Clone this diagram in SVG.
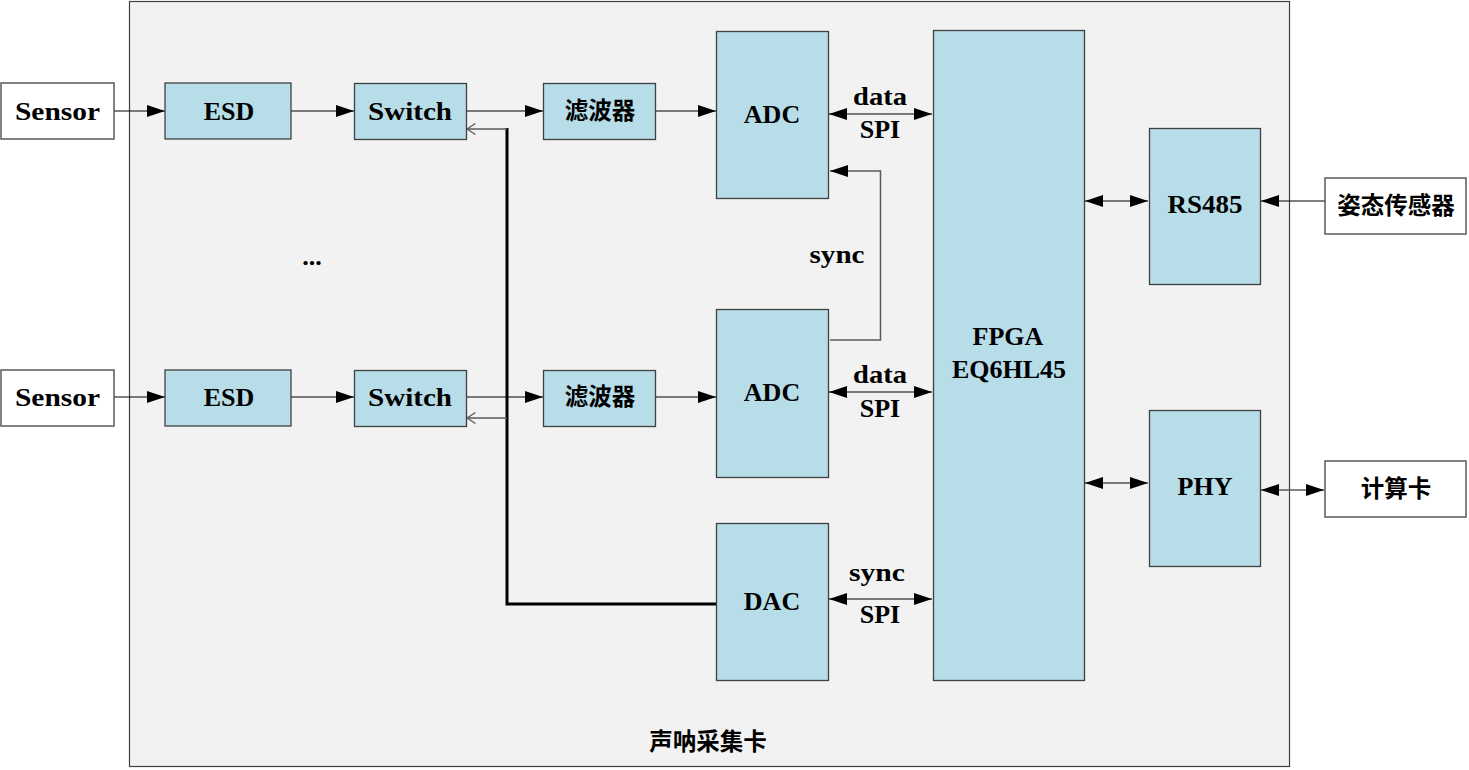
<svg xmlns="http://www.w3.org/2000/svg" width="1469" height="770" viewBox="0 0 1469 770">
<style>
.bg{fill:#f2f2f2;stroke:#404040;stroke-width:1.2}
.ext{fill:#ffffff;stroke:#595959;stroke-width:1.5}
.blk{fill:#b7dde8;stroke:#404040;stroke-width:1.3}
.t{font-family:"Liberation Serif","Noto Sans CJK SC",serif;font-weight:bold;font-size:26px;fill:#000;text-anchor:middle}
.c{font-family:"Noto Sans CJK SC",sans-serif;font-weight:bold;font-size:23.5px;fill:#000;text-anchor:middle}
.ln{fill:none;stroke:#000;stroke-width:1.2}
.gl{fill:none;stroke:#595959;stroke-width:1.5}
.thick{fill:none;stroke:#000;stroke-width:3}
</style>
<defs>
<marker id="ah" viewBox="0 0 18 12" refX="18" refY="6" markerWidth="18" markerHeight="12" markerUnits="userSpaceOnUse" orient="auto-start-reverse">
<path d="M0,0 L18,6 L0,12 z" fill="#000"/>
</marker>
<marker id="oa" viewBox="0 0 10 12" refX="9.5" refY="6" markerWidth="10" markerHeight="12" markerUnits="userSpaceOnUse" orient="auto">
<path d="M1,0.5 L9.5,6 L1,11.5" fill="none" stroke="#595959" stroke-width="1.2"/>
</marker>
</defs>

<g id="board">
<rect class="bg" x="129.5" y="1.5" width="1160" height="765"/>
<text class="c" x="708" y="750">声呐采集卡</text>
</g>

<g id="connectors">
<line class="ln" x1="114" y1="111" x2="165" y2="111" marker-end="url(#ah)"/>
<line class="ln" x1="291" y1="111" x2="354" y2="111" marker-end="url(#ah)"/>
<line class="ln" x1="466" y1="111" x2="543" y2="111" marker-end="url(#ah)"/>
<line class="ln" x1="655" y1="111" x2="716" y2="111" marker-end="url(#ah)"/>
<line class="ln" x1="114" y1="397" x2="165" y2="397" marker-end="url(#ah)"/>
<line class="ln" x1="291" y1="397" x2="354" y2="397" marker-end="url(#ah)"/>
<line class="ln" x1="466" y1="397" x2="543" y2="397" marker-end="url(#ah)"/>
<line class="ln" x1="655" y1="397" x2="716" y2="397" marker-end="url(#ah)"/>
<path class="thick" d="M716,604 H507 V128"/>
<line class="gl" x1="507" y1="129" x2="467" y2="129" marker-end="url(#oa)"/>
<line class="gl" x1="507" y1="418" x2="467" y2="418" marker-end="url(#oa)"/>
<line class="ln" x1="829" y1="114" x2="932" y2="114" marker-start="url(#ah)" marker-end="url(#ah)"/>
<line class="ln" x1="829" y1="392" x2="932" y2="392" marker-start="url(#ah)" marker-end="url(#ah)"/>
<line class="ln" x1="829" y1="599" x2="932" y2="599" marker-start="url(#ah)" marker-end="url(#ah)"/>
<path class="gl" d="M830,340 H880.5 V171 H830" marker-end="url(#ah)"/>
<line class="ln" x1="1085" y1="201" x2="1148" y2="201" marker-start="url(#ah)" marker-end="url(#ah)"/>
<line class="ln" x1="1325" y1="201" x2="1261" y2="201" marker-end="url(#ah)"/>
<line class="ln" x1="1085" y1="483" x2="1148" y2="483" marker-start="url(#ah)" marker-end="url(#ah)"/>
<line class="gl" x1="1261" y1="490" x2="1324" y2="490" marker-start="url(#ah)" marker-end="url(#ah)"/>
<text class="t" x="880" y="105" textLength="54" lengthAdjust="spacingAndGlyphs">data</text>
<text class="t" x="880" y="138">SPI</text>
<text class="t" x="880" y="383" textLength="54" lengthAdjust="spacingAndGlyphs">data</text>
<text class="t" x="880" y="417">SPI</text>
<text class="t" x="877" y="581" textLength="56" lengthAdjust="spacingAndGlyphs">sync</text>
<text class="t" x="880" y="623">SPI</text>
<text class="t" x="837" y="263" textLength="55" lengthAdjust="spacingAndGlyphs">sync</text>
<text class="t" x="312" y="265">...</text>
</g>

<g id="sensor1"><rect class="ext" x="1" y="83" width="113" height="56"/><text class="t" x="57.5" y="120" textLength="85" lengthAdjust="spacingAndGlyphs">Sensor</text></g>
<g id="esd1"><rect class="blk" x="165" y="83" width="126" height="56"/><text class="t" x="229" y="120">ESD</text></g>
<g id="switch1"><rect class="blk" x="354.5" y="83.5" width="112" height="56"/><text class="t" x="410" y="120" textLength="84" lengthAdjust="spacingAndGlyphs">Switch</text></g>
<g id="filter1"><rect class="blk" x="543.5" y="83.5" width="112" height="56"/><text class="c" x="600" y="119">滤波器</text></g>
<g id="adc1"><rect class="blk" x="716.5" y="31.5" width="112" height="167"/><text class="t" x="772" y="123">ADC</text></g>

<g id="sensor2"><rect class="ext" x="1" y="370" width="113" height="56"/><text class="t" x="57.5" y="406" textLength="85" lengthAdjust="spacingAndGlyphs">Sensor</text></g>
<g id="esd2"><rect class="blk" x="165" y="370" width="126" height="56"/><text class="t" x="229" y="406">ESD</text></g>
<g id="switch2"><rect class="blk" x="354.5" y="370.5" width="112" height="56"/><text class="t" x="410" y="406" textLength="84" lengthAdjust="spacingAndGlyphs">Switch</text></g>
<g id="filter2"><rect class="blk" x="543.5" y="370.5" width="112" height="56"/><text class="c" x="600" y="405">滤波器</text></g>
<g id="adc2"><rect class="blk" x="716.5" y="309.5" width="112" height="168"/><text class="t" x="772" y="401">ADC</text></g>

<g id="dac"><rect class="blk" x="716.5" y="523.5" width="112" height="157"/><text class="t" x="772" y="610">DAC</text></g>

<g id="fpga"><rect class="blk" x="933.5" y="30.5" width="151" height="650"/><text class="t" x="1008" y="345">FPGA</text><text class="t" x="1009" y="378" textLength="114" lengthAdjust="spacingAndGlyphs">EQ6HL45</text></g>

<g id="rs485"><rect class="blk" x="1149.5" y="128.5" width="111" height="156"/><text class="t" x="1205" y="213" textLength="75" lengthAdjust="spacingAndGlyphs">RS485</text></g>
<g id="phy"><rect class="blk" x="1149.5" y="410.5" width="111" height="156"/><text class="t" x="1205" y="495">PHY</text></g>

<g id="attitude"><rect class="ext" x="1325" y="178" width="141" height="56"/><text class="c" x="1396" y="214">姿态传感器</text></g>
<g id="computecard"><rect class="ext" x="1325" y="461" width="141" height="56"/><text class="c" x="1396" y="497">计算卡</text></g>
</svg>
